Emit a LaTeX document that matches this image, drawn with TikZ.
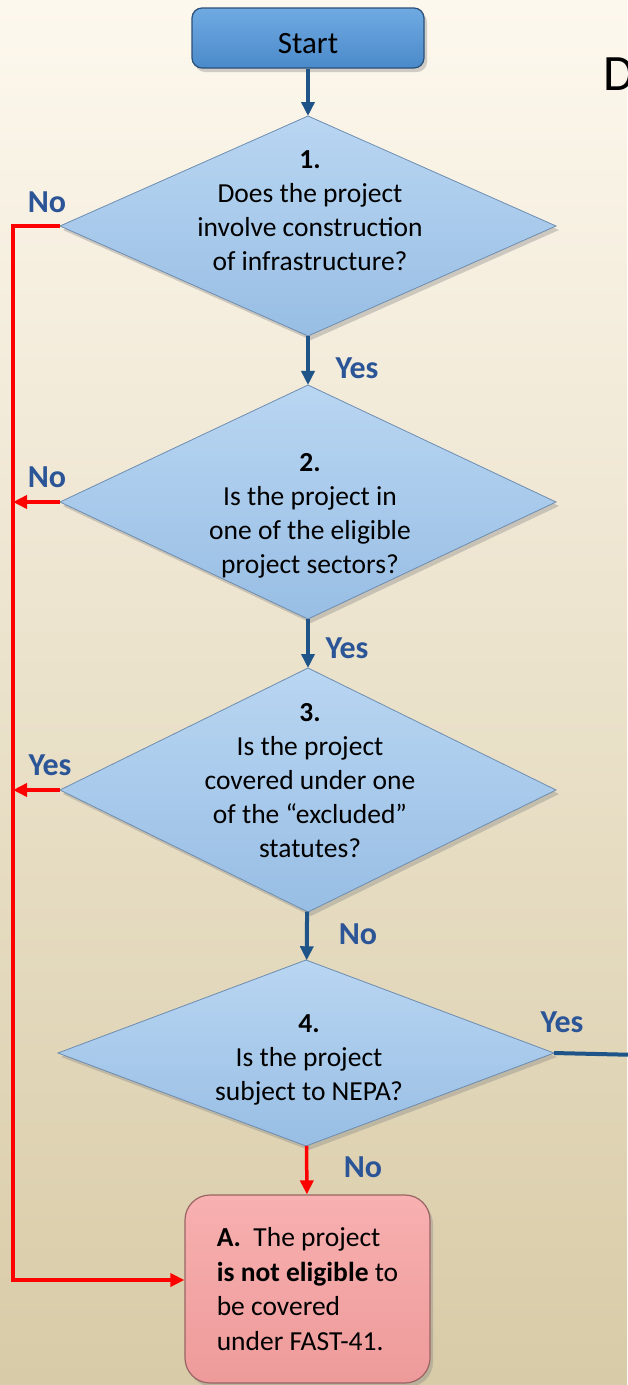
\documentclass[tikz,border=0pt]{standalone}
\usepackage{fontspec}
\setmainfont{Carlito}
\usetikzlibrary{shapes.geometric,arrows.meta,shadows}
\definecolor{bgtop}{HTML}{FDF8EE}
\definecolor{bgbot}{HTML}{D8CBA7}
\definecolor{flowblue}{HTML}{1F5489}
\definecolor{labelblue}{HTML}{2B5597}
\definecolor{flowred}{HTML}{FF0000}
\definecolor{qtop}{HTML}{B9D6F2}
\definecolor{qbot}{HTML}{98BEE4}
\definecolor{qedge}{HTML}{6E8DB0}
\definecolor{starttop}{HTML}{6FAAE2}
\definecolor{startbot}{HTML}{4B8ACA}
\definecolor{startedge}{HTML}{2A4F78}
\definecolor{stoptop}{HTML}{F8B0B0}
\definecolor{stopbot}{HTML}{EE9A9A}
\definecolor{stopedge}{HTML}{9A6464}
\begin{document}
\begin{tikzpicture}[x=1pt,y=-1pt,
    shade/.style={drop shadow={opacity=0.35,shadow xshift=3pt,shadow yshift=-4pt}},
    decision/.style={diamond,shade,draw=qedge,line width=0.8pt,top color=qtop,bottom color=qbot,
      inner sep=0pt,outer sep=0pt,minimum width=496pt},
    qtext/.style={align=center,font=\fontsize{27.5}{34}\selectfont,inner sep=0pt},
    answer/.style={text=labelblue,font=\fontsize{32}{36}\selectfont\bfseries,inner sep=0pt},
    yesline/.style={draw=flowblue,line width=4pt},
    noline/.style={draw=flowred,line width=3.5pt},
    tip/.style={-{Triangle[width=13pt,length=14pt]}}]

  \fill[top color=bgtop,bottom color=bgbot] (0,0) rectangle (627,1385);
  \useasboundingbox (0,0) rectangle (627,1385);

  \node[anchor=base west,font=\fontsize{51}{60}\selectfont,inner sep=0pt] (title) at (603,90) {D};

  \node[shade,draw=startedge,line width=1.2pt,top color=starttop,bottom color=startbot,rounded corners=10pt,
    minimum width=232pt,minimum height=60pt] (start) at (308,38) {};
  \node[font=\fontsize{31}{36}\selectfont,inner sep=0pt] (starttext) at (308,44) {Start};

  \node[decision,minimum height=220pt] (q1) at (308,226) {};
  \node[qtext] (t1) at (310,211) {\textbf{1.}\\Does the project\\involve construction\\of infrastructure?};

  \node[decision,minimum height=234pt] (q2) at (308,502) {};
  \node[qtext] (t2) at (310,516) {\textbf{2.}\\Is the project in\\one of the eligible\\project sectors?};

  \node[decision,minimum height=244pt] (q3) at (308,790) {};
  \node[qtext] (t3) at (310,781) {\textbf{3.}\\Is the project\\covered under one\\of the “excluded”\\statutes?};

  \node[decision,minimum height=186pt] (q4) at (306,1053) {};
  \node[qtext] (t4) at (309,1060) {\textbf{4.}\\Is the project\\subject to NEPA?};

  \node[shade,draw=stopedge,line width=1.2pt,top color=stoptop,bottom color=stopbot,rounded corners=25pt,
    minimum width=245pt,minimum height=188pt,align=left,
    font=\fontsize{27.5}{34.5}\selectfont] (stop) at (307.5,1289)
    {\textbf{A.}\ \ The project\\\textbf{is not eligible} to\\be covered\\under FAST-41.};

  \coordinate (rail) at (13,226);
  \coordinate (exit) at (640,1055);

  \draw[yesline,tip] (start) -- (q1);
  \draw[yesline,tip] (q1) -- (q2);
  \draw[yesline,tip] (q2) -- (q3);
  \draw[yesline,tip] (q3) -- (q4);
  \draw[yesline] (q4.east) -- (exit);
  \draw[noline,tip] (q4) -- (stop);

  \draw[noline,tip] (q1.west) -- (rail) |- ([yshift=9pt]stop.west);
  \draw[noline,tip] (q2.west) -- (q2.west -| rail);
  \draw[noline,tip] (q3.west) -- (q3.west -| rail);

  \node[answer] (a1) at (357,368) {Yes};
  \node[answer] (a2) at (347,648) {Yes};
  \node[answer] (a3) at (358,934) {No};
  \node[answer] (a4) at (363,1167) {No};
  \node[answer] (b1) at (47,202) {No};
  \node[answer] (b2) at (47,477) {No};
  \node[answer] (b3) at (50,765) {Yes};
  \node[answer] (b4) at (562,1022) {Yes};
\end{tikzpicture}
\end{document}
